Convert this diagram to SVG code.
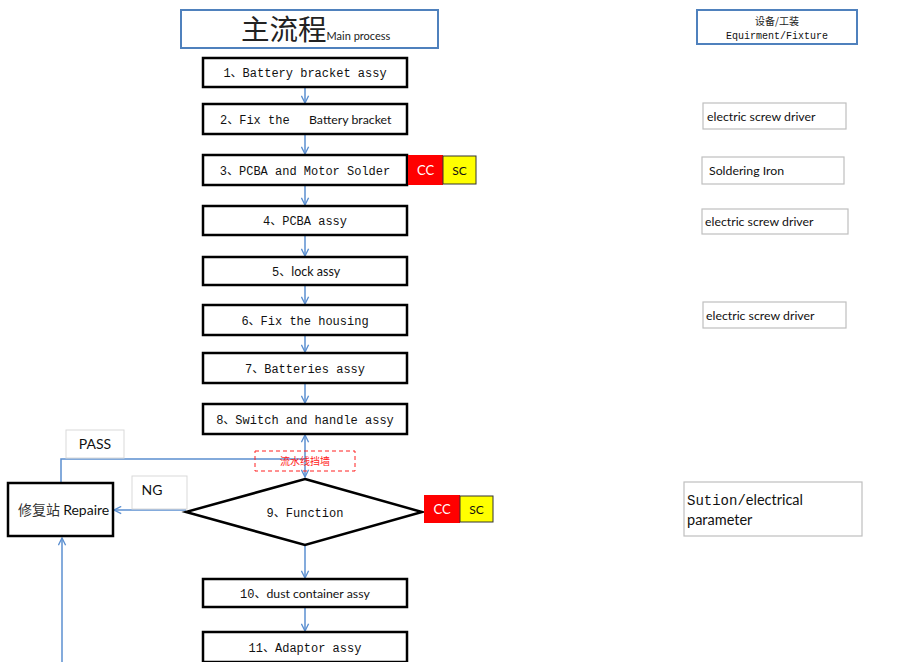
<svg xmlns="http://www.w3.org/2000/svg" width="915" height="662" viewBox="0 0 915 662">
<style>
.proc{fill:#fff;stroke:#000;stroke-width:2.5}
.hdr{fill:#fff;stroke:#4f81bd;stroke-width:2}
.eq{fill:#fff;stroke:#bfbfbf;stroke-width:1.2}
.mono{font-family:"Liberation Mono","Noto Sans CJK SC",monospace;font-size:12px;fill:#111}
.sans{font-family:Lato,"Open Sans","Noto Sans CJK SC",sans-serif;fill:#111}
.conn{stroke:#5b8fd0;stroke-width:1.5;fill:none}
</style>
<defs>
<marker id="ah" viewBox="0 0 10 10" refX="9" refY="5" markerWidth="9" markerHeight="9" markerUnits="userSpaceOnUse" orient="auto-start-reverse">
<path d="M1,1 L9,5 L1,9" fill="none" stroke="#5b8fd0" stroke-width="1.5"/>
</marker>
</defs>
<rect width="915" height="662" fill="#fff"/>

<g id="title">
<rect class="hdr" x="181" y="10" width="257" height="38"/>
<text x="241" y="40" font-family="'Noto Sans CJK SC',sans-serif" font-size="28.5" fill="#222">主流程<tspan font-family="Lato,'Open Sans',sans-serif" font-size="11">Main process</tspan></text>
</g>

<g id="equip-header">
<rect class="hdr" x="697" y="10" width="160" height="34"/>
<text x="777" y="25" text-anchor="middle" font-family="'Noto Sans CJK SC',sans-serif" font-size="10" fill="#222">设备/工装</text>
<text x="777" y="39" text-anchor="middle" class="mono" style="font-size:10px">Equirment/Fixture</text>
</g>

<g id="connectors">
<line class="conn" x1="305" y1="87" x2="305" y2="103" marker-end="url(#ah)"/>
<line class="conn" x1="305" y1="134" x2="305" y2="154" marker-end="url(#ah)"/>
<line class="conn" x1="305" y1="185" x2="305" y2="205" marker-end="url(#ah)"/>
<line class="conn" x1="305" y1="235" x2="305" y2="256" marker-end="url(#ah)"/>
<line class="conn" x1="305" y1="285" x2="305" y2="304" marker-end="url(#ah)"/>
<line class="conn" x1="305" y1="335" x2="305" y2="352" marker-end="url(#ah)"/>
<line class="conn" x1="305" y1="383" x2="305" y2="403" marker-end="url(#ah)"/>
<line class="conn" x1="305" y1="435" x2="305" y2="477" marker-start="url(#ah)" marker-end="url(#ah)"/>
<line class="conn" x1="305" y1="545" x2="305" y2="578" marker-end="url(#ah)"/>
<line class="conn" x1="305" y1="607" x2="305" y2="631" marker-end="url(#ah)"/>
<polyline class="conn" points="61,483 61,459 305,459"/>
<line class="conn" x1="186" y1="510" x2="114" y2="510" marker-end="url(#ah)"/>
<line class="conn" x1="62" y1="662" x2="62" y2="538" marker-end="url(#ah)"/>
</g>

<g id="n1">
<rect class="proc" x="203" y="58" width="204" height="29"/>
<text x="305" y="77" text-anchor="middle" class="mono">1、Battery bracket assy</text>
</g>
<g id="n2">
<rect class="proc" x="203" y="104" width="204" height="30"/>
<text x="220" y="124" class="mono">2、Fix the</text>
<text x="309" y="124" class="sans" font-size="12.3">Battery bracket</text>
</g>
<g id="n3">
<rect class="proc" x="203" y="155" width="204" height="30"/>
<text x="305" y="175" text-anchor="middle" class="mono">3、PCBA and Motor Solder</text>
<rect x="408" y="155" width="35" height="30" fill="#ff0000"/>
<text x="425.5" y="175" text-anchor="middle" class="sans" font-size="13" style="fill:#fff">CC</text>
<rect x="443" y="156" width="33" height="28" fill="#ffff00" stroke="#333" stroke-width="1"/>
<text x="459.5" y="175" text-anchor="middle" class="sans" font-size="12">SC</text>
</g>
<g id="n4">
<rect class="proc" x="203" y="206" width="204" height="29"/>
<text x="305" y="225" text-anchor="middle" class="mono">4、PCBA assy</text>
</g>
<g id="n5">
<rect class="proc" x="203" y="257" width="204" height="28"/>
<text x="272" y="276" class="mono">5、<tspan class="sans" font-size="12.5">lock assy</tspan></text>
</g>
<g id="n6">
<rect class="proc" x="203" y="305" width="204" height="30"/>
<text x="305" y="325" text-anchor="middle" class="mono">6、Fix the housing</text>
</g>
<g id="n7">
<rect class="proc" x="203" y="353" width="204" height="30"/>
<text x="305" y="373" text-anchor="middle" class="mono">7、Batteries assy</text>
</g>
<g id="n8">
<rect class="proc" x="203" y="404" width="204" height="30"/>
<text x="305" y="424" text-anchor="middle" class="mono">8、Switch and handle assy</text>
</g>

<g id="wall">
<rect x="255" y="451" width="100" height="20" fill="none" stroke="#ff2020" stroke-width="1" stroke-dasharray="4,3"/>
<text x="305" y="465" text-anchor="middle" font-family="'Noto Sans CJK SC',sans-serif" font-size="10" fill="#ff2020">流水线挡墙</text>
</g>

<g id="n9">
<polygon points="305,479 422,512 305,545 186,512" fill="#fff" stroke="#000" stroke-width="2.5"/>
<text x="305" y="517" text-anchor="middle" class="mono">9、Function</text>
<rect x="424" y="495" width="36" height="28" fill="#ff0000"/>
<text x="442" y="514" text-anchor="middle" class="sans" font-size="13" style="fill:#fff">CC</text>
<rect x="460" y="496" width="33" height="26" fill="#ffff00" stroke="#333" stroke-width="1"/>
<text x="476.5" y="514" text-anchor="middle" class="sans" font-size="12">SC</text>
</g>

<g id="pass-label">
<rect x="66" y="430" width="58" height="28" fill="#fff" stroke="#d9d9d9" stroke-width="1"/>
<text x="95" y="449" text-anchor="middle" class="sans" font-size="14">PASS</text>
</g>
<g id="ng-label">
<rect x="132" y="476" width="55" height="33" fill="#fff" stroke="#d9d9d9" stroke-width="1"/>
<text x="152" y="495" text-anchor="middle" class="sans" font-size="14">NG</text>
</g>

<g id="repair">
<rect class="proc" x="8" y="483" width="105" height="53"/>
<text x="18" y="515" font-family="'Noto Sans CJK SC',sans-serif" font-size="14" fill="#333">修复站 <tspan class="sans" font-size="14">Repaire</tspan></text>
</g>

<g id="n10">
<rect class="proc" x="203" y="579" width="204" height="28"/>
<text x="240" y="598" class="mono">10、<tspan class="sans" font-size="12.3">dust container assy</tspan></text>
</g>
<g id="n11">
<rect class="proc" x="203" y="632" width="204" height="30"/>
<text x="305" y="652" text-anchor="middle" class="mono">11、Adaptor assy</text>
</g>

<g id="eq1">
<rect class="eq" x="703" y="103" width="143" height="26"/>
<text x="707" y="121" class="sans" font-size="12.3">electric screw driver</text>
</g>
<g id="eq2">
<rect class="eq" x="702" y="157" width="142" height="27"/>
<text x="709" y="175" class="sans" font-size="12.3">Soldering Iron</text>
</g>
<g id="eq3">
<rect class="eq" x="702" y="209" width="146" height="25"/>
<text x="705" y="226" class="sans" font-size="12.3">electric screw driver</text>
</g>
<g id="eq4">
<rect class="eq" x="703" y="302" width="143" height="26"/>
<text x="706" y="320" class="sans" font-size="12.3">electric screw driver</text>
</g>
<g id="eq5">
<rect class="eq" x="684" y="482" width="178" height="54"/>
<text x="687" y="505" class="mono" style="font-size:14px">Sution/<tspan class="sans" font-size="14.5">electrical</tspan></text>
<text x="687" y="525" class="sans" font-size="14.5">parameter</text>
</g>
</svg>
